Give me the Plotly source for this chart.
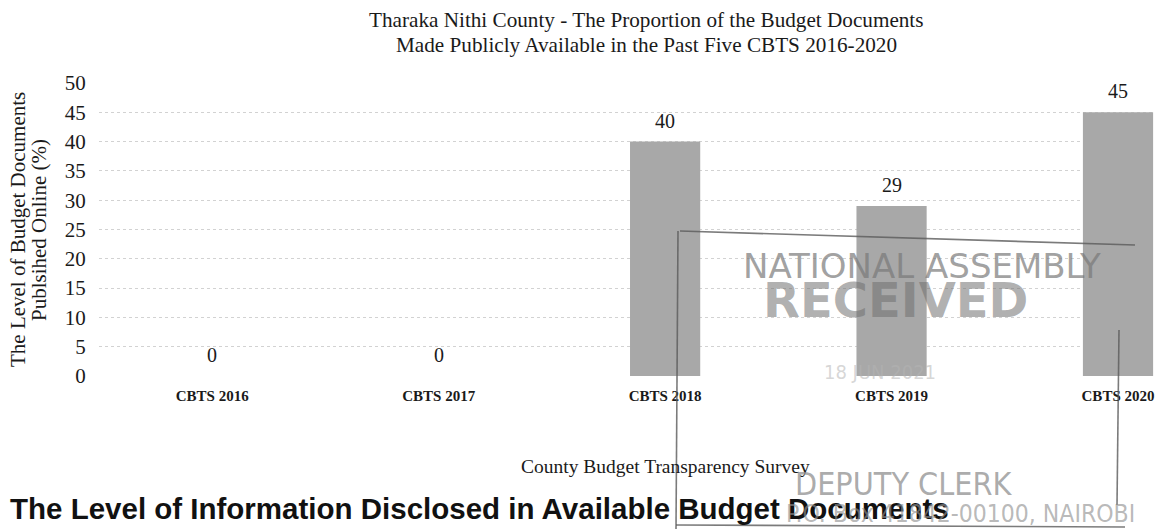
import plotly.graph_objects as go

categories = ["CBTS 2016", "CBTS 2017", "CBTS 2018", "CBTS 2019", "CBTS 2020"]
values = [0, 0, 40, 29, 45]
y_ticks = [0, 5, 10, 15, 20, 25, 30, 35, 40, 45, 50]

title_lines = ["Tharaka Nithi County - The Proportion of the Budget Documents",
               "Made Publicly Available in the Past Five CBTS 2016-2020"]
y_title_lines = ["The Level of Budget Documents", "Publsihed Online (%)"]
x_title = "County Budget Transparency Survey"
heading = "The Level of Information Disclosed in Available Budget Documents"
stamp_lines = ["NATIONAL ASSEMBLY", "RECEIVED", "18 JUN 2021", "DEPUTY CLERK",
               "P.O. Box 41842-00100, NAIROBI"]

SERIF = "Liberation Serif, Times New Roman, serif"
INK = "#1a1a1a"

W, H = 1155, 529
ML, MR, MT, MB = 99, 0, 83, 153
pw = W - ML - MR
ph = H - MT - MB


def px(xp):
    return (xp - ML) / pw


def py(yp):
    return (H - MB - yp) / ph


fig = go.Figure()
fig.add_trace(go.Bar(
    x=list(range(len(categories))), y=values,
    width=0.31,
    marker=dict(color="#a8a8a8", line=dict(width=0)),
    hoverinfo="skip",
))

annotations = []
for i, v in enumerate(values):
    annotations.append(dict(
        x=i, y=v, xref="x", yref="y", text=str(v), showarrow=False,
        yanchor="bottom", yshift=8,
        font=dict(family=SERIF, size=20, color=INK),
    ))

# title (two lines placed separately for tight line spacing)
for txt, cy in zip(title_lines, [20, 45]):
    annotations.append(dict(
        x=px(646), y=py(cy), xref="paper", yref="paper", text=txt,
        showarrow=False, xanchor="center", yanchor="middle",
        font=dict(family=SERIF, size=21.2, color=INK),
    ))

# x axis title
annotations.append(dict(
    x=2, xref="x", y=py(466), yref="paper", text=x_title, showarrow=False,
    xanchor="center", yanchor="middle",
    font=dict(family=SERIF, size=19.5, color=INK),
))
# y axis title lines
for txt, cx in zip(y_title_lines, [18, 39]):
    annotations.append(dict(
        x=px(cx), xref="paper", y=py(230), yref="paper", text=txt,
        showarrow=False, textangle=-90, xanchor="center", yanchor="middle",
        font=dict(family=SERIF, size=21, color=INK),
    ))
# bottom heading
annotations.append(dict(
    x=px(8), y=py(509), xref="paper", yref="paper", text="<b>" + heading + "</b>",
    showarrow=False, xanchor="left", yanchor="middle",
    font=dict(family="Liberation Sans, Arial, sans-serif", size=29.5, color="#111"),
))

fig.update_layout(
    width=W, height=H,
    margin=dict(l=ML, r=MR, t=MT, b=MB),
    paper_bgcolor="white", plot_bgcolor="white",
    showlegend=False,
    xaxis=dict(
        range=[-0.5, (W - 212) / 226.5],
        tickvals=list(range(len(categories))), ticktext=categories,
        tickfont=dict(family=SERIF, size=15, color=INK, weight="bold"),
        showgrid=False, zeroline=False, showline=False,
        ticks="outside", ticklen=6, tickcolor="rgba(0,0,0,0)",
    ),
    yaxis=dict(
        range=[0, 50], tickvals=y_ticks,
        tickfont=dict(family=SERIF, size=21, color=INK),
        showgrid=True, gridcolor="#d2d2d2", griddash="dot", gridwidth=1,
        zeroline=False, showline=False,
        ticks="outside", ticklen=8, tickcolor="rgba(0,0,0,0)",
    ),
    annotations=annotations,
)

# stamp overlay (scanned "received" stamp)
stamp_col = "rgba(90,90,90,0.8)"
for (x0, y0, x1, y1) in [(680, 231, 1135, 245), (678, 231, 676, 529),
                         (1119, 330, 1117, 505), (676, 525, 1125, 527)]:
    fig.add_shape(type="line", xref="paper", yref="paper",
                  x0=px(x0), y0=py(y0), x1=px(x1), y1=py(y1),
                  line=dict(color=stamp_col, width=1.6))

stamp_specs = [
    (922, 266, 34, False, "DejaVu Sans, sans-serif", "rgba(120,120,120,0.7)"),
    (895, 300, 48, True, "DejaVu Sans, sans-serif", "rgba(110,110,110,0.55)"),
    (880, 372, 20, False, "DejaVu Sans Condensed, sans-serif", "rgba(180,180,180,0.55)"),
    (903, 484, 32, False, "DejaVu Sans Condensed, sans-serif", "rgba(135,135,135,0.7)"),
    (960, 513, 24.5, False, "DejaVu Sans Condensed, sans-serif", "rgba(145,145,145,0.65)"),
]
for txt, (cx, cy, sz, bold, fam, col) in zip(stamp_lines, stamp_specs):
    fig.add_annotation(
        x=px(cx), y=py(cy), xref="paper", yref="paper",
        text=("<b>" + txt + "</b>") if bold else txt, showarrow=False,
        xanchor="center", yanchor="middle",
        font=dict(family=fam, size=sz, color=col),
    )

fig.write_html("out.html", config={"displayModeBar": False},
               post_script="document.body.style.margin='0px';")
